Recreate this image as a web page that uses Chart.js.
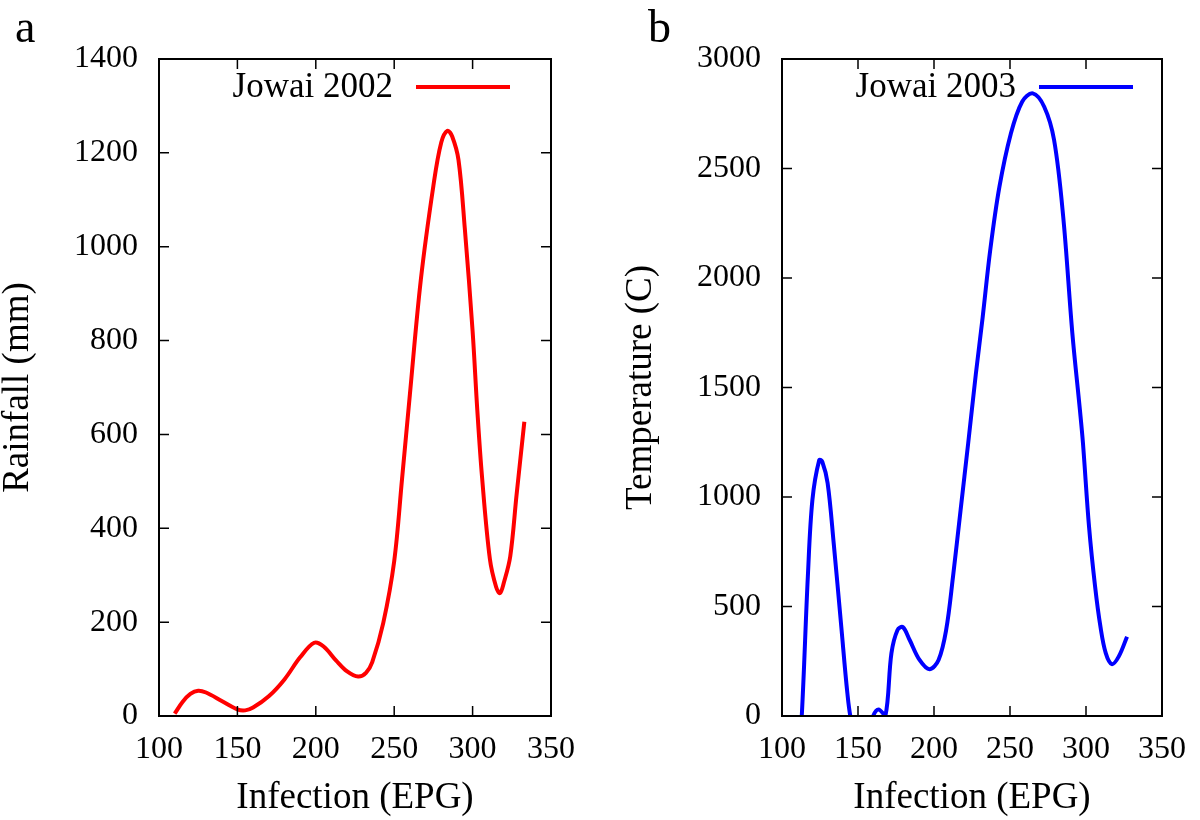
<!DOCTYPE html>
<html>
<head>
<meta charset="utf-8">
<script src="https://cdn.jsdelivr.net/npm/chart.js@4/dist/chart.umd.min.js"></script>
<style>
  html, body { margin: 0; padding: 0; background: #fff; }
  #wrap { width: 1200px; height: 820px; display: flex; }
  canvas { display: block; }
</style>
</head>
<body>
<div id="wrap">
  <canvas id="chartA" width="600" height="820"></canvas>
  <canvas id="chartB" width="600" height="820"></canvas>
</div>
<script>
// panel a: Jowai 2002, rainfall vs infection
const infection2002 = [110, 115, 120, 125, 130, 140, 150, 155, 160, 170, 180, 190, 199, 205, 213, 220, 227, 232, 236, 243,
  250, 255, 260, 267, 275, 280, 284, 287, 291, 295, 300, 303, 306, 311, 315, 317.5, 320, 324, 328, 333];
const rainfall2002 = [5, 30, 47, 54, 50, 32, 14, 12, 18, 42, 78, 125, 156, 148, 118, 95, 84, 92, 115, 198,
  330, 505, 685, 930, 1130, 1222, 1247, 1235, 1185, 1040, 820, 652, 510, 335, 275, 262, 285, 340, 470, 627];

// panel b: Jowai 2003, temperature vs infection
const infection2003 = [111, 113, 117, 120, 124.5, 126.5, 130, 134, 139, 143, 145.5, 152, 160, 163.5, 168, 172, 176, 179.5,
  184, 190.5, 197, 203, 208, 212.5, 217.5, 222.5, 227.5, 232, 237, 243, 250.5, 258, 265, 272.5, 279, 285, 291, 296, 298,
  302, 306, 309.5, 313, 317, 321.5, 327];
const temperature2003 = [-150, 0, 636, 986, 1169, 1161, 1064, 790, 408, 105, -20, -180, 0, 30, 0, 287, 393, 406,
  347, 256, 214, 256, 393, 636, 941, 1246, 1560, 1820, 2128, 2415, 2658, 2805, 2843, 2782, 2630, 2280, 1749, 1397, 1246,
  864, 590, 408, 287, 237, 271, 362];

const xTicks = [100, 150, 200, 250, 300, 350];

const serif = "'Liberation Serif', 'DejaVu Serif', serif";
Chart.defaults.font.family = serif;
Chart.defaults.font.size = 32;
Chart.defaults.color = '#000';

function toPoints(xs, ys) {
  return xs.map((x, i) => ({x: x, y: ys[i]}));
}

// gnuplot style box: frame, inward ticks on all sides, key, panel letter
const framePlugin = {
  id: 'frame',
  afterDatasetsDraw(chart, args, opts) {
    const {ctx, chartArea: a} = chart;
    const xs = chart.scales.x, ys = chart.scales.y;
    ctx.save();
    ctx.strokeStyle = '#000';
    ctx.lineWidth = 1.5;
    ctx.beginPath();
    xs.ticks.forEach(t => {
      const px = xs.getPixelForValue(t.value);
      ctx.moveTo(px, a.bottom); ctx.lineTo(px, a.bottom - 10);
      ctx.moveTo(px, a.top); ctx.lineTo(px, a.top + 10);
    });
    ys.ticks.forEach(t => {
      const py = ys.getPixelForValue(t.value);
      ctx.moveTo(a.left, py); ctx.lineTo(a.left + 10, py);
      ctx.moveTo(a.right, py); ctx.lineTo(a.right - 10, py);
    });
    ctx.stroke();
    ctx.lineWidth = 2;
    ctx.strokeRect(a.left, a.top, a.right - a.left, a.bottom - a.top);

    // key
    const ds = chart.data.datasets[0];
    ctx.font = '35px ' + serif;
    ctx.fillStyle = '#000';
    ctx.textAlign = 'right';
    ctx.textBaseline = 'alphabetic';
    ctx.fillText(ds.label, opts.keyX, opts.keyY + 10);
    ctx.strokeStyle = ds.borderColor;
    ctx.lineWidth = 4;
    ctx.beginPath();
    ctx.moveTo(opts.keyX + 23, opts.keyY);
    ctx.lineTo(opts.keyX + 117, opts.keyY);
    ctx.stroke();

    // panel letter
    ctx.font = '46px ' + serif;
    ctx.textAlign = 'left';
    ctx.fillStyle = '#000';
    ctx.fillText(opts.letter, opts.letterX, 42);
    ctx.restore();
  }
};

function makeChart(id, cfg) {
  return new Chart(document.getElementById(id), {
    type: 'line',
    data: {
      datasets: [{
        label: cfg.label,
        data: cfg.points,
        borderColor: cfg.color,
        borderWidth: 4,
        pointRadius: 0,
        fill: false,
        tension: 0.35,
        clip: 0
      }]
    },
    options: {
      responsive: false,
      animation: false,
      layout: {padding: {left: 0, top: 59, right: cfg.padRight, bottom: 0}},
      plugins: {
        legend: {display: false},
        tooltip: {enabled: false},
        frame: {keyX: cfg.keyX, keyY: 87, letter: cfg.letter, letterX: cfg.letterX}
      },
      scales: {
        x: {
          type: 'linear',
          min: 100, max: 350,
          afterBuildTicks: s => { s.ticks = xTicks.map(v => ({value: v})); },
          afterFit: s => { s.height = 104; },
          grid: {display: false, drawTicks: false},
          border: {display: false},
          ticks: {padding: 14, callback: v => String(v)},
          title: {display: true, text: 'Infection (EPG)', font: {size: 37}, padding: {top: 0, bottom: 0}}
        },
        y: {
          min: 0, max: cfg.yMax,
          afterFit: s => { s.width = cfg.axisWidth; },
          grid: {display: false, drawTicks: false},
          border: {display: false},
          ticks: {stepSize: cfg.yStep, padding: 21, callback: v => String(v)},
          title: {display: true, text: cfg.yTitle, font: {size: 37}, padding: {top: cfg.titlePad, bottom: 0}}
        }
      }
    },
    plugins: [framePlugin]
  });
}

makeChart('chartA', {
  label: 'Jowai 2002',
  points: toPoints(infection2002, rainfall2002),
  color: '#ff0000',
  yMax: 1400, yStep: 200,
  yTitle: 'Rainfall (mm)',
  axisWidth: 159, padRight: 49, titlePad: -4,
  keyX: 393, letter: 'a', letterX: 15
});

makeChart('chartB', {
  label: 'Jowai 2003',
  points: toPoints(infection2003, temperature2003),
  color: '#0000ff',
  yMax: 3000, yStep: 500,
  yTitle: 'Temperature (C)',
  axisWidth: 182, padRight: 27, titlePad: 19,
  keyX: 416, letter: 'b', letterX: 48
});
</script>
</body>
</html>
